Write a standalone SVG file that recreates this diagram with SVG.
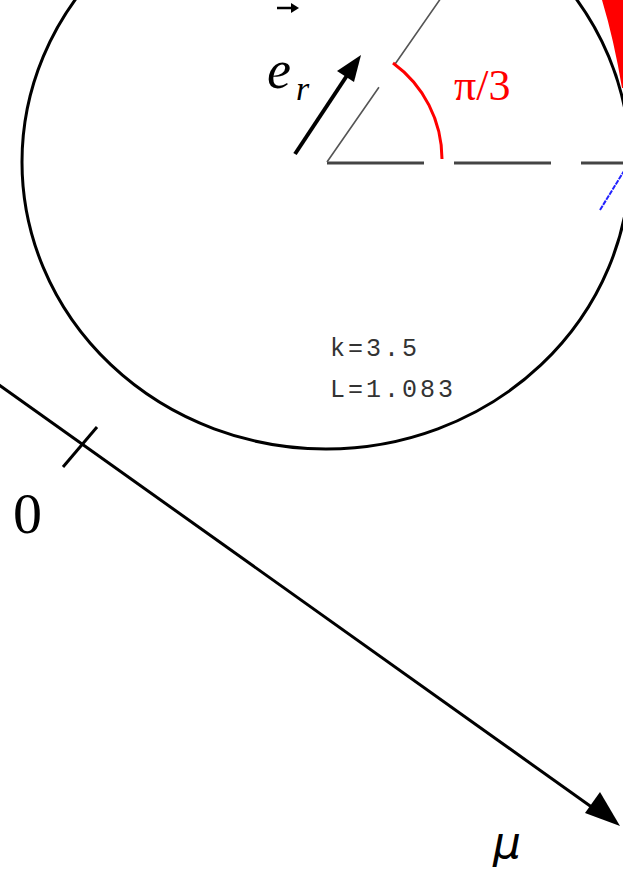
<svg xmlns="http://www.w3.org/2000/svg" width="623" height="874" viewBox="0 0 623 874">
<defs>
<style>
.circ{fill:none;stroke:#000;stroke-width:3}
.ref{fill:none;stroke:#444;stroke-width:3;stroke-dasharray:97 30}
.diag{fill:none;stroke:#555;stroke-width:1.6;stroke-dasharray:91 28}
.red{fill:none;stroke:#f00;stroke-width:3}
.ax{fill:none;stroke:#000;stroke-width:3}
.mono{font-family:"Liberation Mono",monospace;font-size:25px;fill:#333;letter-spacing:3px}
.serif{font-family:"Liberation Serif",serif}
</style>
</defs>
<rect width="623" height="874" fill="#fff"/>
<g id="circle">
<ellipse class="circ" cx="326" cy="162" rx="304" ry="287"/>
<path d="M602,0 Q614,40 622,88 L623,88 L623,0 Z" fill="#f00"/>
<line x1="600" y1="210" x2="624" y2="171" stroke="#22f" stroke-width="2" stroke-dasharray="5 1"/>
</g>
<g id="angle">
<line class="ref" x1="327" y1="163" x2="623" y2="163"/>
<line class="diag" x1="327" y1="162" x2="441" y2="-2"/>
<path class="red" d="M393,63 A119,119 0 0 1 442,159"/>
<text class="serif" x="454" y="100" font-size="44" fill="#f00">π/3</text>
</g>
<g id="er">
<line x1="295" y1="154" x2="350" y2="71" stroke="#000" stroke-width="4"/>
<polygon points="361,55 337,71 354,82" fill="#000"/>
<text class="serif" x="267" y="88" font-size="54" font-style="italic">e</text>
<text class="serif" x="296" y="100" font-size="34" font-style="italic">r</text>
<line x1="277" y1="8" x2="292" y2="8" stroke="#000" stroke-width="2.5"/>
<polygon points="299,8 291,3 291,13" fill="#000"/>
</g>
<g id="params">
<text class="mono" x="330" y="356">k=3.5</text>
<text class="mono" x="330" y="397">L=1.083</text>
</g>
<g id="axis">
<line class="ax" x1="-5" y1="382" x2="600" y2="813"/>
<polygon points="620,826 585,813 600,792" fill="#000"/>
<line class="ax" x1="63" y1="467" x2="97" y2="427"/>
<text class="serif" x="13" y="533" font-size="58">0</text>
<text x="493" y="858" font-size="44" font-style="italic" font-family="'DejaVu Sans',sans-serif">μ</text>
</g>
</svg>
